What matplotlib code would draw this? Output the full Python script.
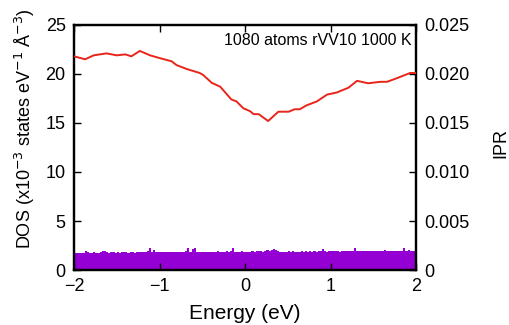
import numpy as np
import matplotlib
matplotlib.use('Agg')
import matplotlib.pyplot as plt
from matplotlib.ticker import FuncFormatter

plt.rcParams['font.family'] = ['Liberation Sans', 'DejaVu Sans']

# DOS curve (x10^-3 states eV^-1 A^-3)
dos_energy = [-2.00, -1.87, -1.77, -1.62, -1.50, -1.40, -1.33, -1.23, -1.11, -0.99,
              -0.86, -0.80, -0.68, -0.53, -0.49, -0.39, -0.29, -0.16, -0.10, -0.02,
              0.06, 0.10, 0.16, 0.27, 0.39, 0.51, 0.58, 0.64, 0.72, 0.84,
              0.96, 1.07, 1.21, 1.31, 1.44, 1.58, 1.66, 1.77, 1.93, 2.00]
dos_value = [21.8, 21.5, 21.9, 22.1, 21.9, 22.0, 21.8, 22.35, 21.9, 21.6,
             21.3, 20.9, 20.5, 20.1, 19.9, 19.1, 18.7, 17.4, 17.2, 16.5,
             16.2, 15.9, 15.9, 15.2, 16.15, 16.15, 16.4, 16.4, 16.8, 17.2,
             17.9, 18.1, 18.6, 19.3, 19.05, 19.2, 19.2, 19.55, 20.1, 20.1]

# IPR bars (units of 1e-3), one per 0.025 eV bin from -2 to 2
ipr_milli = [
    1.76, 1.74, 1.78, 1.72, 1.77, 1.98, 1.80, 1.75, 1.76, 1.79, 1.73, 1.78, 1.80, 1.95, 1.99, 1.81, 1.77, 1.79, 1.83, 1.78,
    1.80, 1.76, 1.82, 1.79, 1.81, 1.77, 1.85, 1.80, 1.78, 1.82, 1.79, 1.84, 1.81, 1.86, 1.93, 2.22, 1.88, 2.05, 1.83, 1.80,
    1.82, 1.79, 1.84, 1.81, 1.86, 1.83, 1.80, 1.85, 1.82, 1.87, 1.83, 1.81, 1.93, 2.20, 1.86, 2.10, 2.21, 1.88, 1.84, 1.86,
    1.83, 1.87, 1.85, 1.82, 1.88, 1.84, 1.86, 1.90, 1.85, 1.83, 1.87, 1.95, 1.86, 1.89, 2.22, 1.88, 1.85, 1.87, 1.90, 1.86,
    1.84, 1.88, 1.86, 1.92, 1.87, 1.97, 1.90, 1.94, 1.88, 1.99, 2.02, 1.95, 2.06, 2.12, 2.08, 1.92, 1.86, 1.88, 1.85, 1.87,
    1.89, 1.86, 1.90, 1.87, 1.85, 1.88, 1.91, 1.86, 1.89, 1.87, 1.90, 1.88, 1.92, 1.87, 1.89, 1.93, 2.15, 1.90, 1.88, 1.91,
    1.89, 1.92, 1.90, 1.95, 1.88, 1.91, 1.89, 1.93, 1.90, 1.96, 1.92, 2.22, 1.94, 1.98, 1.91, 1.89, 1.93, 1.90, 1.95, 1.91,
    1.93, 1.90, 1.92, 1.96, 1.91, 2.06, 1.94, 1.90, 1.93, 1.91, 1.95, 1.92, 1.94, 1.97, 2.25, 1.96, 2.02, 1.93, 1.95, 1.92,
]
bin_width = 0.025
ipr_energy = -2 + bin_width * (np.arange(len(ipr_milli)) + 0.5)
ipr_value = np.array(ipr_milli) * 1e-3

fig = plt.figure(figsize=(5.09, 3.25), dpi=100)
ax = fig.add_axes([0.1454, 0.1692, 0.672, 0.754])
ax2 = ax.twinx()

ax2.bar(ipr_energy, ipr_value, width=bin_width, color='#9400d3', linewidth=0)
ax.plot(dos_energy, dos_value, color='#e8251a', lw=1.4, zorder=5)
ax.set_zorder(ax2.get_zorder() + 1)
ax.patch.set_visible(False)

ax.set_xlim(-2, 2)
ax.set_ylim(0, 25)
ax2.set_ylim(0, 0.025)
ax.set_xticks([-2, -1, 0, 1, 2])
ax.set_yticks([0, 5, 10, 15, 20, 25])
ax2.set_yticks([0, 0.005, 0.010, 0.015, 0.020, 0.025])
ax2.yaxis.set_major_formatter(FuncFormatter(lambda v, p: '0' if v == 0 else f'{v:.3f}'))

for a in (ax, ax2):
    for s in a.spines.values():
        s.set_linewidth(1.6)
ax.tick_params(axis='x', direction='in', top=True, length=5, width=1.0, labelsize=13, pad=6)
ax.tick_params(axis='y', direction='in', length=5, width=1.0, labelsize=13, pad=6)
ax2.tick_params(axis='y', direction='in', length=5, width=1.0, labelsize=13, pad=6)

ax.set_xlabel('Energy (eV)', fontsize=15, labelpad=6.5)
ax.set_ylabel('DOS (x10$^{-3}$ states eV$^{-1}$ Å$^{-3}$)', fontsize=13)
ax.yaxis.set_label_coords(-0.108, 0.576)
ax2.set_ylabel('IPR', fontsize=13)
ax2.yaxis.set_label_coords(1.222, 0.518)

ax.text(0.988, 0.935, '1080 atoms rVV10 1000 K', transform=ax.transAxes,
        ha='right', va='center', fontsize=11.5)

fig.savefig('out.png', dpi=100)
